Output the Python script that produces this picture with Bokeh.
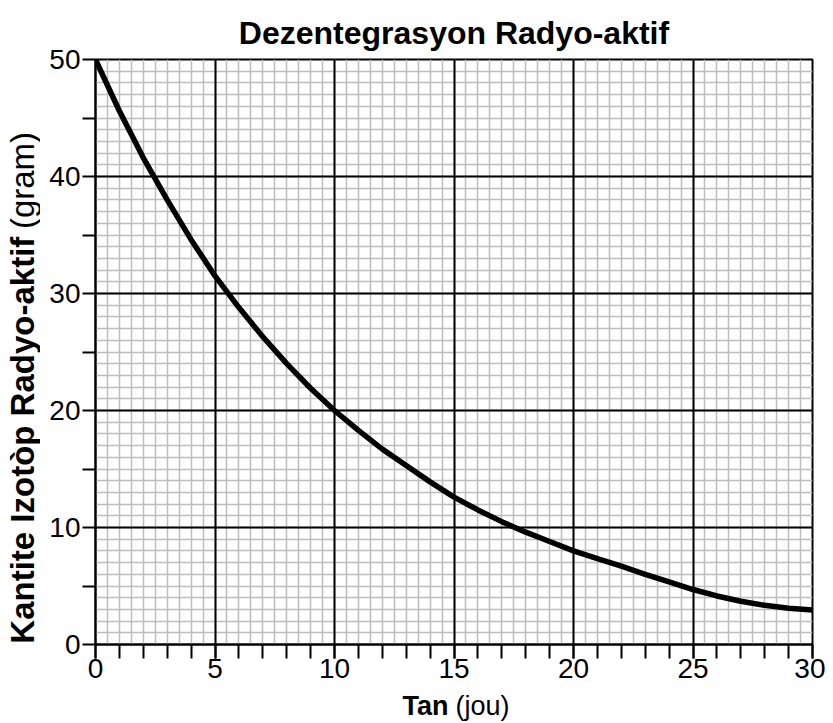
import math
from bokeh.plotting import figure
from bokeh.models import Range1d, FixedTicker, Grid, Title
from bokeh.layouts import column, row
from bokeh.core.properties import value
from bokeh.embed import file_html
from bokeh.resources import INLINE

# Data
days = [0, 1, 2, 3, 4, 5, 6, 7, 8, 9, 10, 11, 12, 13, 14, 15, 16, 17, 18, 19,
        20, 21, 22, 23, 24, 25, 26, 27, 28, 29, 30]
grams = [50.0, 45.6, 41.6, 38.0, 34.6, 31.5, 28.8, 26.3, 24.0, 21.9, 20.0, 18.3,
         16.7, 15.3, 13.9, 12.6, 11.5, 10.5, 9.6, 8.8, 8.0, 7.35, 6.7, 6.0, 5.35,
         4.7, 4.15, 3.7, 3.35, 3.1, 2.95]

x_major = [0, 5, 10, 15, 20, 25, 30]
x_minor = list(range(0, 31))
x_grid_minor = [i / 2 for i in range(0, 61)]
y_major = [0, 10, 20, 30, 40, 50]
y_minor = [5, 15, 25, 35, 45]
y_grid_minor = list(range(0, 51))

title_text = "Dezentegrasyon Radyo-aktif"
xlabel_bold, xlabel_reg = "Tan", "(jou)"
ylabel_bold, ylabel_reg = "Kantite Izotòp Radyo-aktif", "(gram)"

FONT = "Liberation Sans"
TOTAL_W = 825
YLAB_W = 40
MAIN_H = 690
XLAB_H = 31

# ---------------- main chart ----------------
p = figure(width=TOTAL_W - YLAB_W, height=MAIN_H, x_range=Range1d(0, 30), y_range=Range1d(0, 50),
           output_backend="svg", toolbar_location=None,
           min_border_left=55, min_border_right=13, min_border_top=59, min_border_bottom=46)
p.grid.visible = False
p.outline_line_color = "black"
p.outline_line_width = 2
p.background_fill_color = "white"

p.add_layout(Title(text=title_text, align="center", text_font=FONT, text_font_style="bold",
                   text_font_size="32px", text_color="black", standoff=18), "above")

gx_minor = Grid(dimension=0, ticker=FixedTicker(ticks=[], minor_ticks=x_grid_minor),
                grid_line_color=None, minor_grid_line_color="#bdbdbd", minor_grid_line_width=1.5)
gy_minor = Grid(dimension=1, ticker=FixedTicker(ticks=[], minor_ticks=y_grid_minor),
                grid_line_color=None, minor_grid_line_color="#bdbdbd", minor_grid_line_width=1.5)
gx_major = Grid(dimension=0, ticker=FixedTicker(ticks=x_major),
                grid_line_color="black", grid_line_width=2)
gy_major = Grid(dimension=1, ticker=FixedTicker(ticks=y_major),
                grid_line_color="black", grid_line_width=2)
for g in (gx_minor, gy_minor, gx_major, gy_major):
    p.add_layout(g)

p.line(days, grams, line_color="black", line_width=5.5, line_join="round", line_cap="round")

for ax, tmaj, tmin, tlen in ((p.xaxis[0], x_major, x_minor, 14), (p.yaxis[0], y_major, y_minor, 13)):
    ax.ticker = FixedTicker(ticks=tmaj, minor_ticks=tmin)
    ax.major_tick_out = tlen
    ax.major_tick_in = 0
    ax.minor_tick_out = tlen
    ax.minor_tick_in = 0
    ax.major_tick_line_width = 2
    ax.minor_tick_line_width = 2
    ax.axis_line_width = 2
    ax.major_label_text_font = FONT
    ax.major_label_text_font_size = "28px"
    ax.major_label_text_color = "black"
p.xaxis[0].major_label_standoff = 0
p.yaxis[0].major_label_standoff = 2

# ---------------- y label strip ----------------
ylab = figure(width=YLAB_W, height=MAIN_H, x_range=Range1d(0, YLAB_W), y_range=Range1d(0, MAIN_H),
              x_axis_type=None, y_axis_type=None, output_backend="svg", toolbar_location=None,
              min_border=0, title_location=None)
ylab.outline_line_color = None
ylab.grid.visible = False
ylab.text(x=[22], y=[MAIN_H - 209], text=[ylabel_bold], angle=math.pi / 2,
          text_align="right", text_baseline="middle", text_font=value(FONT),
          text_font_style="bold", text_font_size="33px", text_color="black")
ylab.text(x=[22], y=[MAIN_H - 200], text=[ylabel_reg], angle=math.pi / 2,
          text_align="left", text_baseline="middle", text_font=value(FONT),
          text_font_style="normal", text_font_size="33px", text_color="black")

# ---------------- x label strip ----------------
xlab = figure(width=TOTAL_W, height=XLAB_H, x_range=Range1d(0, TOTAL_W), y_range=Range1d(0, XLAB_H),
              x_axis_type=None, y_axis_type=None, output_backend="svg", toolbar_location=None,
              min_border=0, title_location=None)
xlab.outline_line_color = None
xlab.grid.visible = False
xlab.text(x=[448], y=[15.5], text=[xlabel_bold], text_align="right",
          text_baseline="middle", text_font=value(FONT), text_font_style="bold",
          text_font_size="27px", text_color="black")
xlab.text(x=[455], y=[15.5], text=[xlabel_reg], text_align="left",
          text_baseline="middle", text_font=value(FONT), text_font_style="normal",
          text_font_size="27px", text_color="black")

layout = column(row(ylab, p), xlab)
open("out.html", "w").write(file_html(layout, INLINE))
